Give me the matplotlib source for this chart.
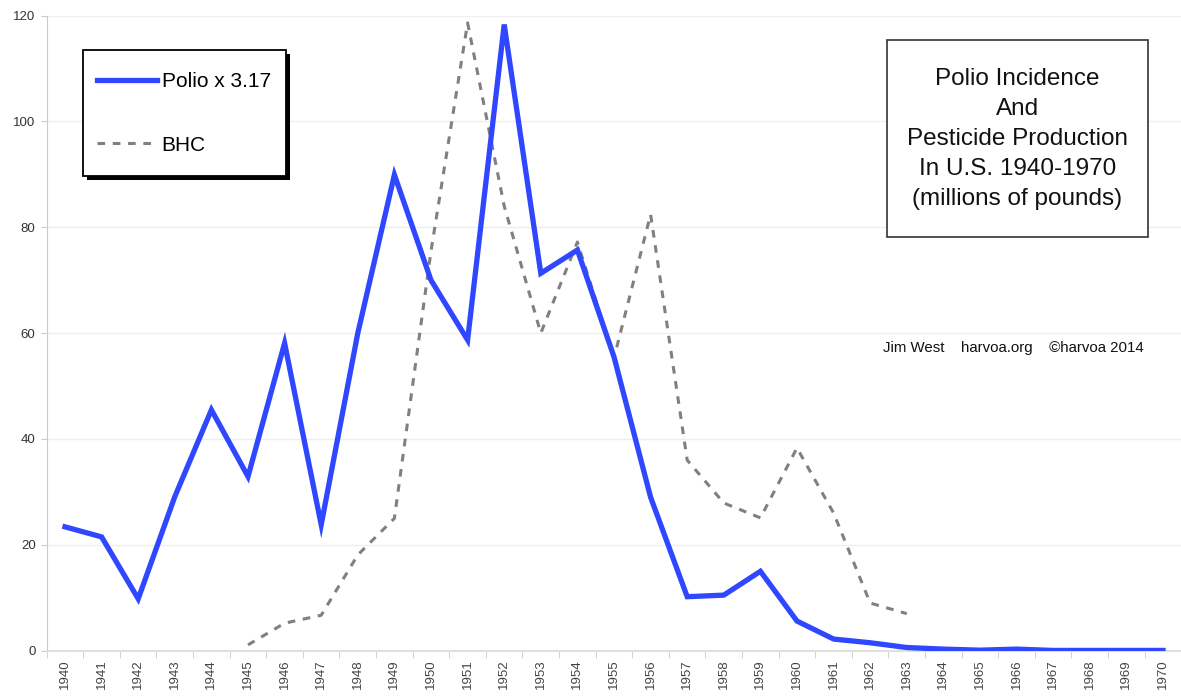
import matplotlib
matplotlib.use("Agg")
import matplotlib.pyplot as plt
from matplotlib.patches import Rectangle

plt.rcParams['font.family'] = ['Liberation Sans', 'DejaVu Sans']

years = list(range(1940, 1971))
polio = [23.4, 21.5, 9.8, 29.1, 45.5, 32.9, 58.1, 23.8, 60.0, 89.9,
         70.0, 58.7, 118.3, 71.3, 75.7, 55.5, 29.0, 10.2, 10.5, 15.0,
         5.6, 2.2, 1.5, 0.6, 0.3, 0.1, 0.3, 0.05, 0.05, 0.05, 0.05]
bhc_years = list(range(1945, 1964))
bhc = [1.1, 5.2, 6.7, 18.1, 25.0, 75.5, 118.6, 84.0, 60.0, 77.2,
       55.3, 82.4, 36.0, 27.9, 25.1, 38.3, 26.0, 9.0, 7.0]
yticks = [0, 20, 40, 60, 80, 100, 120]

W, H = 1181, 699
fig = plt.figure(figsize=(W / 100, H / 100), dpi=100)
ax_l, ax_b, ax_w, ax_h = 46.7, 48.3, 1134.6, 635.2
ax = fig.add_axes([ax_l / W, ax_b / H, ax_w / W, ax_h / H])

xi = [y - 1940 for y in years]
bi = [y - 1940 for y in bhc_years]
ax.plot(bi, bhc, color='#808080', lw=2.2, dashes=(2.5, 2.5), label='BHC', zorder=3)
ax.plot(xi, polio, color='#2F47FF', lw=3.8, solid_joinstyle='miter', label='Polio x 3.17', zorder=4)

ax.set_xlim(-0.5, 30.5)
ax.set_ylim(0, 120)
ax.set_yticks(yticks)
ax.set_yticklabels([str(v) for v in yticks])
ax.set_xticks(xi)
ax.set_xticklabels([str(y) for y in years], rotation=90)
ax.set_xticks([i - 0.5 for i in range(32)], minor=True)
ax.tick_params(axis='x', which='major', length=0, pad=6, labelsize=9.5, labelcolor='#444444')
ax.tick_params(axis='x', which='minor', length=5, color='#cccccc', direction='out')
ax.tick_params(axis='y', length=4, color='#cccccc', labelsize=9.5, labelcolor='#333333', pad=4)
ax.grid(axis='y', color='#eeeeee', lw=1)
ax.set_axisbelow(True)
for s in ['top', 'right']:
    ax.spines[s].set_visible(False)
ax.spines['left'].set_color('#c8c8d0')
ax.spines['bottom'].set_color('#e0e0e0')
ax.spines['bottom'].set_linewidth(1.5)

# Legend frame with shadow (drawn manually)
lx0, ly0, lx1, ly1 = 83, 50, 286, 176
fig.patches.append(Rectangle(((lx0 + 4) / W, 1 - (ly1 + 4) / H), (lx1 - lx0) / W, (ly1 - ly0) / H,
                             transform=fig.transFigure, facecolor='black', edgecolor='none', zorder=5))
fig.patches.append(Rectangle((lx0 / W, 1 - ly1 / H), (lx1 - lx0) / W, (ly1 - ly0) / H,
                             transform=fig.transFigure, facecolor='white', edgecolor='black',
                             lw=1.3, zorder=6))

handles, labels = ax.get_legend_handles_labels()
top_px = H - ax_b - ax_h  # pixel y of axes top
leg = ax.legend(handles[::-1], labels[::-1], loc='upper left',
                bbox_to_anchor=((97 - ax_l) / ax_w, 1 - (72 - top_px) / ax_h),
                frameon=False, fontsize=15, handlelength=2.9, handletextpad=0.2,
                labelspacing=2.15, borderpad=0, borderaxespad=0)
leg.set_zorder(7)
ax.legend_ = None
fig.add_artist(leg)

# Title box
bx0, by0, bx1, by1 = 887, 40, 1148, 237
fig.patches.append(Rectangle((bx0 / W, 1 - by1 / H), (bx1 - bx0) / W, (by1 - by0) / H,
                             transform=fig.transFigure, fill=True, facecolor='white',
                             edgecolor='#333333', lw=1.2, zorder=5))
fig.text((bx0 + bx1) / 2 / W, 1 - (by0 + by1 + 1) / 2 / H,
         "Polio Incidence\nAnd\nPesticide Production\nIn U.S. 1940-1970\n(millions of pounds)",
         ha='center', va='center', fontsize=17.5, linespacing=1.47, color='#111111', zorder=6)

fig.text(1013 / W, 1 - 348 / H, "Jim West    harvoa.org    \u00a9harvoa 2014",
         ha='center', va='center', fontsize=10.8, color='#111111')

fig.savefig('out.png', dpi=100)
